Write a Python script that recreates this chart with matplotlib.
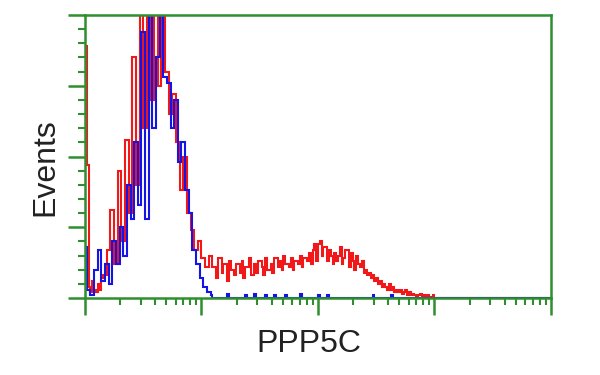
import numpy as np
import matplotlib
matplotlib.use("Agg")
import matplotlib.pyplot as plt
from matplotlib.ticker import LogLocator, MultipleLocator, NullFormatter

# channels per decade, 4 decades on a log axis
ch_per_decade = 64
n_decades = 4

# event counts per channel, as percent of the plot top
red_counts = [
    89, 47, 4, 2, 6, 3, 2, 5, 3, 7,
    8, 8, 17, 17, 31, 31, 12, 12, 45, 45,
    20, 20, 56, 56, 30, 30, 85, 85, 40, 40,
    104, 104, 60, 60, 105, 105, 70, 70, 104, 104,
    75, 75, 102, 102, 80, 80, 65, 65, 72, 72,
    55, 55, 38, 38, 50, 50, 30, 30, 24, 24,
    17, 17, 20, 20, 14, 14, 11, 11, 15, 15,
    11, 11, 7, 14, 14, 9, 12, 12, 6, 13,
    10, 10, 8, 12, 12, 9, 13, 7, 11, 11,
    14, 8, 8, 12, 9, 13, 13, 11, 8, 14,
    10, 10, 12, 9, 14, 14, 11, 13, 10, 15,
    12, 12, 11, 14, 10, 13, 13, 12, 15, 11,
    14, 14, 13, 16, 12, 17, 19, 13, 19, 20,
    15, 18, 18, 13, 17, 15, 12, 16, 13, 15,
    18, 12, 14, 17, 17, 11, 16, 13, 10, 15,
    12, 11, 13, 9, 10, 8, 9, 7, 8, 6,
    7, 5, 6, 4, 5, 4, 3, 5, 3, 4,
    2, 3, 2, 3, 1.5, 2, 3, 1, 2, 1,
    1.5, 1, 0.5, 1, 1.5, 0.5, 1, 0.5, 1, 0.5,
    0.5, 1,
]
blue_counts = [
    18, 3, 3, 1, 1, 10, 10, 17, 17, 6,
    6, 12, 12, 5, 5, 20, 20, 12, 12, 25,
    25, 15, 15, 40, 40, 28, 28, 55, 55, 33,
    33, 94, 94, 28, 28, 105, 105, 60, 60, 85,
    85, 105, 105, 78, 78, 76, 76, 60, 60, 70,
    70, 48, 48, 55, 55, 38, 38, 30, 30, 17,
    17, 12, 12, 7, 7, 4, 4, 2, 2, 1,
    0, 0, 0, 0, 0, 0, 0, 0, 1.5, 0,
    0, 0, 0, 0, 0, 0, 0, 0, 1, 0,
    0, 0, 0, 1.5, 0, 0, 0, 0, 0, 1,
    0, 0, 0, 0, 1, 0, 0, 0, 0, 0,
    1, 0, 0, 0, 0, 0, 0, 0, 1.5, 0,
    0, 0, 0, 0, 0, 0, 0, 0, 1, 0,
    0, 0, 0, 1, 0, 0, 0, 0, 0, 0,
    0, 0, 0, 0, 0, 0, 0, 0, 0, 0,
    0, 0, 0, 0, 0, 0, 0, 0, 1, 0,
    0, 0, 0, 0, 0, 0, 0, 0, 1, 0,
]

x_label = "PPP5C"
y_label = "Events"

green = "#2f8f2f"

n_ch = ch_per_decade * n_decades
red = np.zeros(n_ch)
red[:len(red_counts)] = red_counts
blue = np.zeros(n_ch)
blue[:len(blue_counts)] = blue_counts
edges = 10 ** (np.arange(n_ch + 1) / ch_per_decade)

plt.rcParams["font.family"] = ["Liberation Sans", "DejaVu Sans"]

fig = plt.figure(figsize=(6, 3.75), dpi=100)
ax = fig.add_axes([85 / 600, 77 / 375, 466 / 600, 283 / 375])

ax.stairs(red, edges, color="#f01818", lw=1.5)
ax.stairs(blue, edges, color="#1414e6", lw=1.5)

ax.set_xscale("log")
ax.set_xlim(1, 10 ** n_decades)
ax.set_ylim(0, 100)

ax.xaxis.set_major_locator(LogLocator(base=10, numticks=10))
ax.xaxis.set_minor_locator(LogLocator(base=10, subs=np.arange(2, 10), numticks=50))
ax.xaxis.set_major_formatter(NullFormatter())
ax.xaxis.set_minor_formatter(NullFormatter())
ax.yaxis.set_major_locator(MultipleLocator(25))
ax.yaxis.set_minor_locator(MultipleLocator(5))
ax.yaxis.set_major_formatter(NullFormatter())

ax.tick_params(which="major", direction="out", length=12, width=1.8, color=green)
ax.tick_params(which="minor", direction="out", length=5, width=1.5, color=green)
ax.tick_params(top=False, right=False)

for sp in ax.spines.values():
    sp.set_color(green)
    sp.set_linewidth(1.8)

fig.text(309 / 600, 1 - 344 / 375, x_label, ha="center", va="center",
         fontsize=23, color="#222222")
fig.text(45 / 600, 1 - 167 / 375, y_label, ha="center", va="center",
         rotation=90, fontsize=23, color="#222222")

fig.savefig("out.png", dpi=100)
